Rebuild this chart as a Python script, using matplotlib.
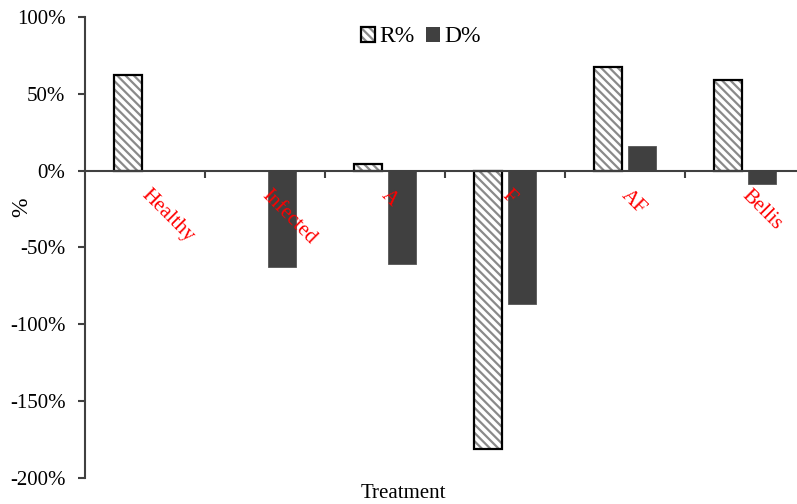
import matplotlib
matplotlib.use("Agg")
import matplotlib.pyplot as plt
from matplotlib.ticker import FuncFormatter, FixedLocator
import numpy as np

categories = ["Healthy", "Infected", "A", "F", "AF", "Bellis"]
r_pct = [62.5, 0.0, 4.2, -181.0, 67.5, 59.0]
d_pct = [0.0, -63.0, -61.0, -87.0, 16.0, -9.0]
y_ticks = [100, 50, 0, -50, -100, -150, -200]

plt.rcParams["font.family"] = ["Liberation Serif", "DejaVu Serif"]
plt.rcParams["font.size"] = 15
plt.rcParams["hatch.linewidth"] = 1.6

W, H = 797, 504
fig = plt.figure(figsize=(W / 100, H / 100), dpi=100)
ax = fig.add_axes([85 / W, 1 - 478 / H, 720 / W, (478 - 17) / H])

x = np.arange(len(categories))
bw = 0.233
off = 0.14
axis_col = "#404040"

# R% bars: gray diagonal stripes with a black outline (zero bars left unstroked)
r_lw = [0 if v == 0 else 1.6 for v in r_pct]
r_fill = ax.bar(x - off, r_pct, bw, facecolor="white", edgecolor="#8a8a8a",
                hatch="\\\\\\\\", linewidth=0, zorder=2)
r_edge = ax.bar(x - off, r_pct, bw, facecolor="none", edgecolor="black",
                linewidth=r_lw, zorder=3)
# D% bars: solid dark gray
d_lw = [0 if v == 0 else 0.6 for v in d_pct]
d_bars = ax.bar(x + off, d_pct, bw, color="#404040", edgecolor="#555555",
                linewidth=d_lw, zorder=2)

ax.set_xlim(-0.5, len(categories) - 0.5)
ax.set_ylim(-200, 100)

for s in ["top", "right"]:
    ax.spines[s].set_visible(False)
ax.spines["bottom"].set_position(("data", 0))
ax.spines["bottom"].set_color(axis_col)
ax.spines["bottom"].set_linewidth(1.5)
ax.spines["bottom"].set_zorder(4)
ax.spines["left"].set_color(axis_col)
ax.spines["left"].set_linewidth(1.5)

ax.yaxis.set_major_locator(FixedLocator(y_ticks))
ax.yaxis.set_major_formatter(FuncFormatter(lambda v, p: f"{int(round(v))}%"))
ax.tick_params(axis="y", direction="out", length=5, width=1.5, color=axis_col,
               pad=9, labelsize=15, labelcolor="black")

ax.set_xticks(np.arange(0.5, len(categories) - 0.5, 1.0))
ax.set_xticklabels([])
ax.tick_params(axis="x", direction="out", length=5, width=1.5, color=axis_col)

# category labels sit just under the zero line, slanted downward
for i, name in enumerate(categories):
    ax.annotate(name, xy=(i, 0), xytext=(6, -15), textcoords="offset pixels",
                rotation=-45, rotation_mode="anchor", ha="left", va="top",
                color="red", fontsize=15, zorder=5)

leg = ax.legend([(r_fill[0], r_edge[0]), d_bars[0]], ["R%", "D%"],
                loc="center", bbox_to_anchor=(421 / W, 1 - 37 / H),
                bbox_transform=fig.transFigure, ncol=2, frameon=False,
                handlelength=0.6, handleheight=0.6, handletextpad=0.2,
                columnspacing=0.45, fontsize=17, borderpad=0)

fig.text(22 / W, 1 - 207 / H, "%", rotation=90, ha="center", va="center", fontsize=17)
fig.text(403 / W, 1 - 493 / H, "Treatment", ha="center", va="center", fontsize=15)

fig.savefig("out.png", dpi=100)
